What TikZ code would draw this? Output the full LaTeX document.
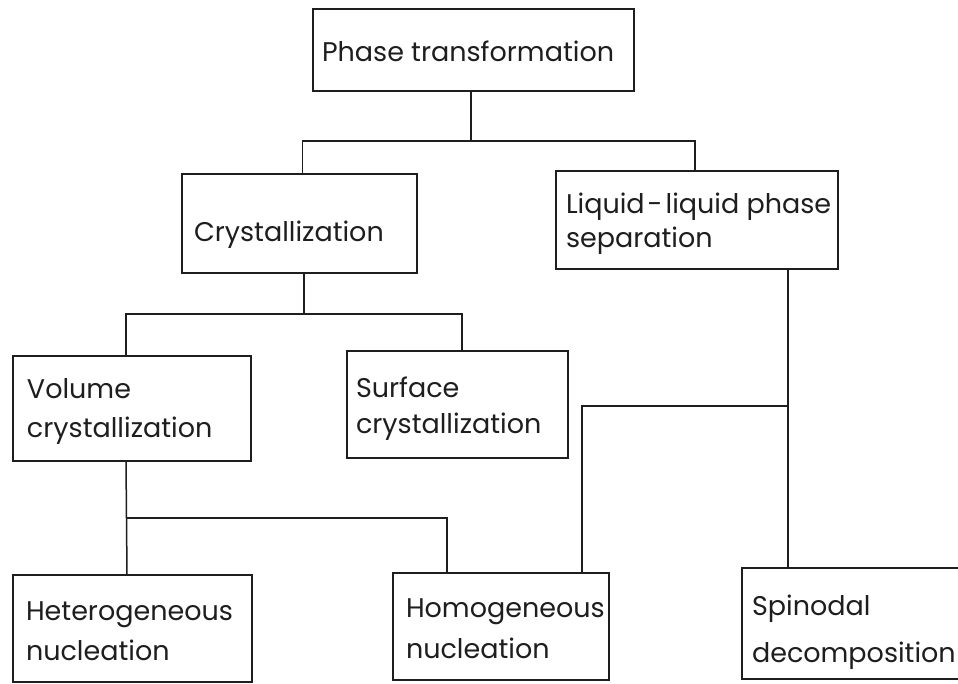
\documentclass[tikz,border=0pt]{standalone}
\usepackage{fontspec}
\setmainfont{Poppins}
\usetikzlibrary{fit}
\definecolor{ink}{HTML}{1E1E1E}
\begin{document}
\begin{tikzpicture}[x=1pt,y=-1pt,
  box/.style={draw=ink, line width=1.6pt, inner sep=0pt, outer sep=0pt},
  lbl/.style={anchor=base west, inner sep=0pt, outer sep=0pt, text=ink, font=\fontsize{27}{32}\selectfont},
  wire/.style={draw=ink, line width=1.5pt}]
\useasboundingbox (0,0) rectangle (958,684);
\fill[white] (0,0) rectangle (958,684);
\clip (0,0) rectangle (958,684);
% boxes
\node[box, fit={(313,9) (634,91)}] (phase) {};
\node[box, fit={(182,174) (417,273)}] (crys) {};
\node[box, fit={(556,171) (838,269)}] (liq) {};
\node[box, fit={(13,356) (251,461)}] (vol) {};
\node[box, fit={(347,351) (568,458)}] (surf) {};
\node[box, fit={(13,575) (252,682)}] (het) {};
\node[box, fit={(393,573) (609,680)}] (hom) {};
\node[box, fit={(742,568) (966,679)}] (spin) {};
% labels
\node[lbl] (phaseT) at (322,62) {Phase transformation};
\node[lbl] (crysT) at (194,242) {Crystallization};
\node[lbl] (liqT1) at (566,214) {Liquid\kern3pt-\kern3pt liquid phase};
\node[lbl] (liqT2) at (566,248) {separation};
\node[lbl] (volT1) at (27,398) {Volume};
\node[lbl] (volT2) at (27,437) {crystallization};
\node[lbl] (surfT1) at (356,397) {Surface};
\node[lbl] (surfT2) at (356,433) {crystallization};
\node[lbl] (hetT1) at (26,620) {Heterogeneous};
\node[lbl] (hetT2) at (26,660) {nucleation};
\node[lbl] (homT1) at (406,617) {Homogeneous};
\node[lbl] (homT2) at (406,658) {nucleation};
\node[lbl] (spinT1) at (752,615) {Spinodal};
\node[lbl] (spinT2) at (752,662) {decomposition};
% bus coordinates
\coordinate (bus1) at (0,141);
\coordinate (bus2) at (0,314);
\coordinate (bus3) at (0,518);
\coordinate (bus4) at (0,406);
% connectors
\draw[wire] ([xshift=-2.5pt]phase.south) -- ([xshift=-2.5pt]phase.south |- bus1);
\draw[wire] ([xshift=3pt]crys.north) -- ([xshift=3pt]crys.north |- bus1) -- ([xshift=-2pt]liq.north |- bus1) -- ([xshift=-2pt]liq.north);
\draw[wire] ([xshift=4.5pt]crys.south) -- ([xshift=4.5pt]crys.south |- bus2);
\draw[wire] ([xshift=-6pt]vol.north) -- ([xshift=-6pt]vol.north |- bus2) -- ([xshift=4.5pt]surf.north |- bus2) -- ([xshift=4.5pt]surf.north);
\draw[wire] ([xshift=-6pt]vol.south) -- ([xshift=-5.5pt]het.north);
\draw[wire] ([xshift=-6pt]vol.south |- bus3) -- ([xshift=54pt]hom.north west |- bus3) -- ([xshift=54pt]hom.north west);
\draw[wire] ([xshift=232pt]liq.south west) -- ([xshift=46pt]spin.north west);
\draw[wire] ([xshift=232pt]liq.south west |- bus4) -- ([xshift=-27pt]hom.north east |- bus4) -- ([xshift=-27pt]hom.north east);
\end{tikzpicture}
\end{document}
